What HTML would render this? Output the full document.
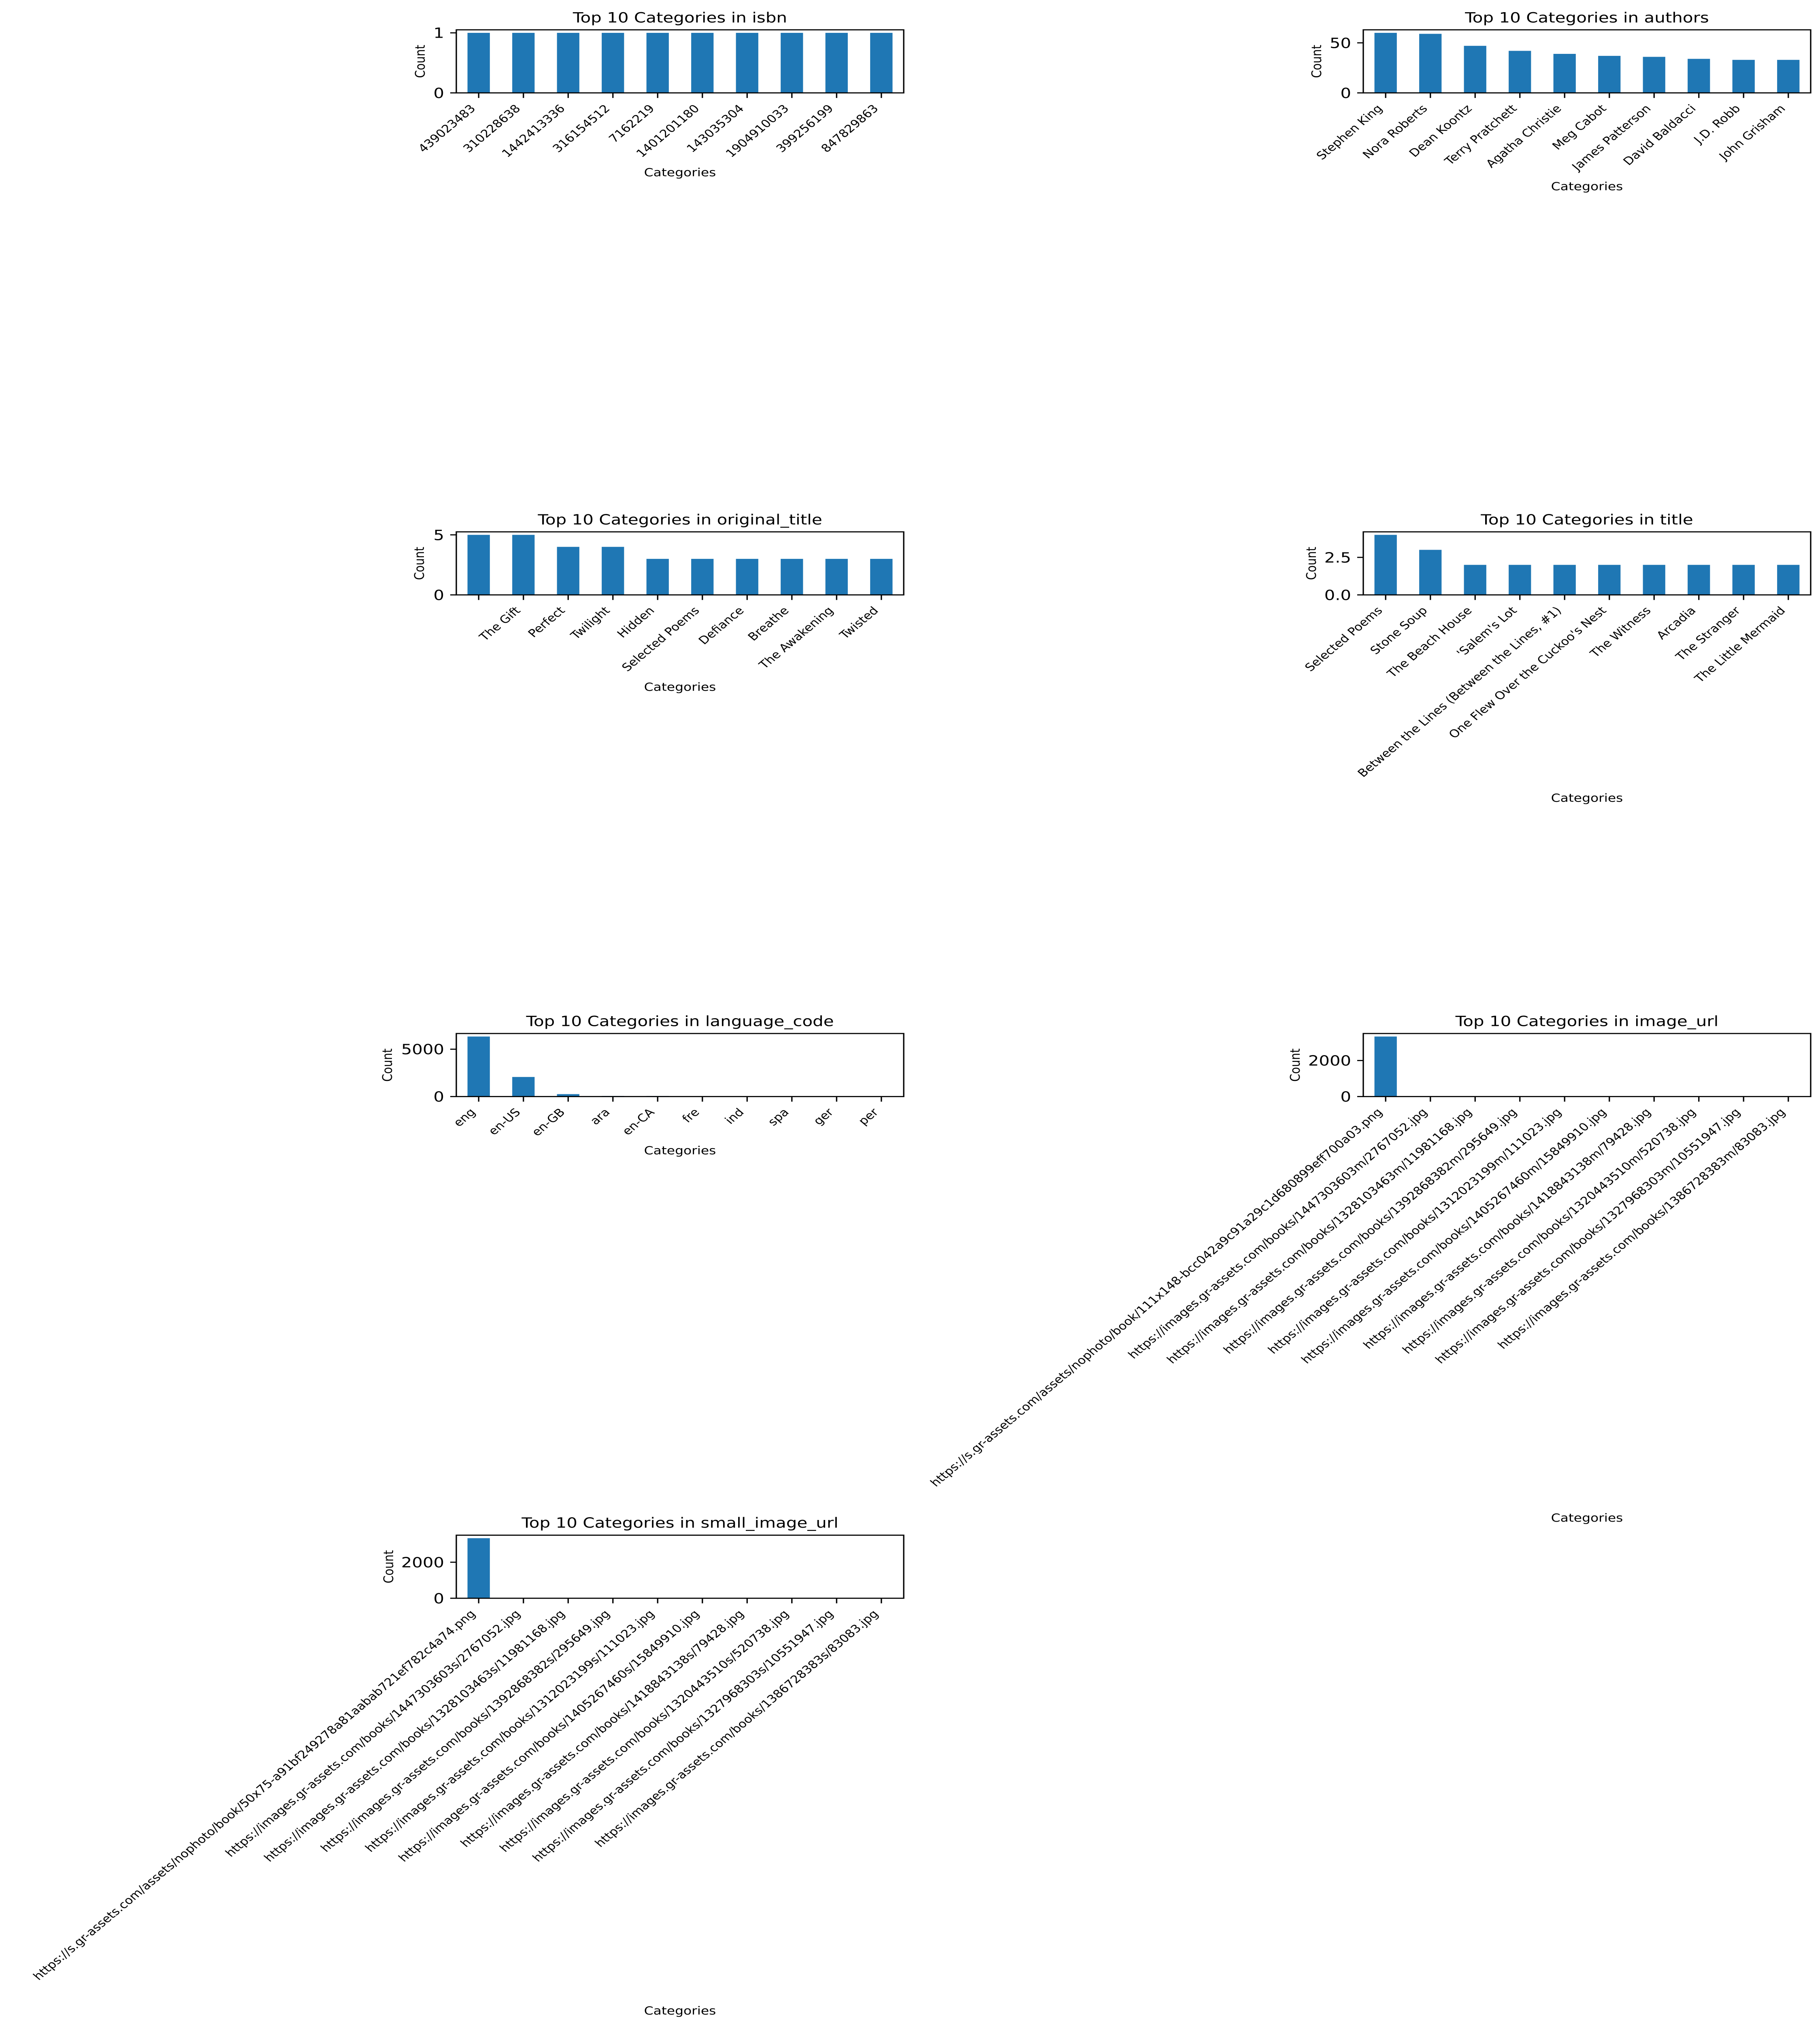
<!DOCTYPE html>
<html><head><meta charset="utf-8"><style>
html,body{margin:0;padding:0;background:#fff;width:100vw;height:100vh;overflow:hidden;}
svg{display:block;position:absolute;left:0;top:0;width:100vw;height:100vh;}
text{font-family:"DejaVu Sans","Liberation Sans",sans-serif;fill:#000;}
.t{font-size:42px;text-anchor:middle;}
.yt{font-size:41.7px;text-anchor:end;}
.al{font-size:33px;text-anchor:middle;}
.xl{font-size:32px;text-anchor:end;}
.b{fill:#1f77b4;}
.fr{fill:none;stroke:#000;stroke-width:3.3;}
.tk{stroke:#000;stroke-width:3.3;}
</style></head><body>
<svg viewBox="0 0 4495 5974" preserveAspectRatio="none" xmlns="http://www.w3.org/2000/svg">
<rect width="4495" height="5974" fill="#fff"/>
<defs>
<g id="xt">
<line class="tk" x1="55.25" y1="0" x2="55.25" y2="15"/><line class="tk" x1="165.75" y1="0" x2="165.75" y2="15"/><line class="tk" x1="276.25" y1="0" x2="276.25" y2="15"/><line class="tk" x1="386.75" y1="0" x2="386.75" y2="15"/><line class="tk" x1="497.25" y1="0" x2="497.25" y2="15"/><line class="tk" x1="607.75" y1="0" x2="607.75" y2="15"/><line class="tk" x1="718.25" y1="0" x2="718.25" y2="15"/><line class="tk" x1="828.75" y1="0" x2="828.75" y2="15"/><line class="tk" x1="939.25" y1="0" x2="939.25" y2="15"/><line class="tk" x1="1049.75" y1="0" x2="1049.75" y2="15"/>
<line class="tk" x1="-15" y1="0" x2="0" y2="0"/>
<rect class="fr" x="0" y="-186" width="1105" height="186"/>
</g>
</defs>

<!-- isbn -->
<g transform="translate(1127,274)">
<rect class="b" x="27.6" y="-177.1" width="55.25" height="177.1"/><rect class="b" x="138.1" y="-177.1" width="55.25" height="177.1"/><rect class="b" x="248.6" y="-177.1" width="55.25" height="177.1"/><rect class="b" x="359.1" y="-177.1" width="55.25" height="177.1"/><rect class="b" x="469.6" y="-177.1" width="55.25" height="177.1"/><rect class="b" x="580.1" y="-177.1" width="55.25" height="177.1"/><rect class="b" x="690.6" y="-177.1" width="55.25" height="177.1"/><rect class="b" x="801.1" y="-177.1" width="55.25" height="177.1"/><rect class="b" x="911.6" y="-177.1" width="55.25" height="177.1"/><rect class="b" x="1022.1" y="-177.1" width="55.25" height="177.1"/>
<use href="#xt"/>
<line class="tk" x1="-15" y1="-177.1" x2="0" y2="-177.1"/>
<text class="yt" x="-30" y="15">0</text><text class="yt" x="-30" y="-162">1</text>
<text class="t" x="552.5" y="-208">Top 10 Categories in isbn</text>
<text class="al" transform="translate(-78,-93) rotate(-90)">Count</text>
<text class="al" x="552.5" y="246">Categories</text>
<g transform="translate(49,48) rotate(-45)"><text class="xl">439023483</text></g>
<g transform="translate(160,48) rotate(-45)"><text class="xl">310228638</text></g>
<g transform="translate(270,48) rotate(-45)"><text class="xl">1442413336</text></g>
<g transform="translate(381,48) rotate(-45)"><text class="xl">316154512</text></g>
<g transform="translate(491,48) rotate(-45)"><text class="xl">7162219</text></g>
<g transform="translate(602,48) rotate(-45)"><text class="xl">1401201180</text></g>
<g transform="translate(712,48) rotate(-45)"><text class="xl">143035304</text></g>
<g transform="translate(823,48) rotate(-45)"><text class="xl">1904910033</text></g>
<g transform="translate(933,48) rotate(-45)"><text class="xl">399256199</text></g>
<g transform="translate(1044,48) rotate(-45)"><text class="xl">847829863</text></g>
</g>

<!-- authors -->
<g transform="translate(3367,274)">
<rect class="b" x="27.6" y="-177.1" width="55.25" height="177.1"/><rect class="b" x="138.1" y="-174.2" width="55.25" height="174.2"/><rect class="b" x="248.6" y="-138.8" width="55.25" height="138.8"/><rect class="b" x="359.1" y="-124" width="55.25" height="124"/><rect class="b" x="469.6" y="-115.1" width="55.25" height="115.1"/><rect class="b" x="580.1" y="-109.2" width="55.25" height="109.2"/><rect class="b" x="690.6" y="-106.3" width="55.25" height="106.3"/><rect class="b" x="801.1" y="-100.4" width="55.25" height="100.4"/><rect class="b" x="911.6" y="-97.4" width="55.25" height="97.4"/><rect class="b" x="1022.1" y="-97.4" width="55.25" height="97.4"/>
<use href="#xt"/>
<line class="tk" x1="-15" y1="-147.6" x2="0" y2="-147.6"/>
<text class="yt" x="-30" y="15">0</text><text class="yt" x="-30" y="-132.6">50</text>
<text class="t" x="552.5" y="-208">Top 10 Categories in authors</text>
<text class="al" transform="translate(-104,-93) rotate(-90)">Count</text>
<text class="al" x="552.5" y="287">Categories</text>
<g transform="translate(49,48) rotate(-45)"><text class="xl">Stephen King</text></g>
<g transform="translate(160,48) rotate(-45)"><text class="xl">Nora Roberts</text></g>
<g transform="translate(270,48) rotate(-45)"><text class="xl">Dean Koontz</text></g>
<g transform="translate(381,48) rotate(-45)"><text class="xl">Terry Pratchett</text></g>
<g transform="translate(491,48) rotate(-45)"><text class="xl">Agatha Christie</text></g>
<g transform="translate(602,48) rotate(-45)"><text class="xl">Meg Cabot</text></g>
<g transform="translate(712,48) rotate(-45)"><text class="xl">James Patterson</text></g>
<g transform="translate(823,48) rotate(-45)"><text class="xl">David Baldacci</text></g>
<g transform="translate(933,48) rotate(-45)"><text class="xl">J.D. Robb</text></g>
<g transform="translate(1044,48) rotate(-45)"><text class="xl">John Grisham</text></g>
</g>

<!-- original_title -->
<g transform="translate(1127,1755)">
<rect class="b" x="27.6" y="-177.1" width="55.25" height="177.1"/><rect class="b" x="138.1" y="-177.1" width="55.25" height="177.1"/><rect class="b" x="248.6" y="-141.7" width="55.25" height="141.7"/><rect class="b" x="359.1" y="-141.7" width="55.25" height="141.7"/><rect class="b" x="469.6" y="-106.3" width="55.25" height="106.3"/><rect class="b" x="580.1" y="-106.3" width="55.25" height="106.3"/><rect class="b" x="690.6" y="-106.3" width="55.25" height="106.3"/><rect class="b" x="801.1" y="-106.3" width="55.25" height="106.3"/><rect class="b" x="911.6" y="-106.3" width="55.25" height="106.3"/><rect class="b" x="1022.1" y="-106.3" width="55.25" height="106.3"/>
<use href="#xt"/>
<line class="tk" x1="-15" y1="-177.1" x2="0" y2="-177.1"/>
<text class="yt" x="-30" y="15">0</text><text class="yt" x="-30" y="-162">5</text>
<text class="t" x="552.5" y="-208">Top 10 Categories in original_title</text>
<text class="al" transform="translate(-80,-93) rotate(-90)">Count</text>
<text class="al" x="552.5" y="283">Categories</text>
<g transform="translate(160,48) rotate(-45)"><text class="xl">The Gift</text></g>
<g transform="translate(270,48) rotate(-45)"><text class="xl">Perfect</text></g>
<g transform="translate(381,48) rotate(-45)"><text class="xl">Twilight</text></g>
<g transform="translate(491,48) rotate(-45)"><text class="xl">Hidden</text></g>
<g transform="translate(602,48) rotate(-45)"><text class="xl">Selected Poems</text></g>
<g transform="translate(712,48) rotate(-45)"><text class="xl">Defiance</text></g>
<g transform="translate(823,48) rotate(-45)"><text class="xl">Breathe</text></g>
<g transform="translate(933,48) rotate(-45)"><text class="xl">The Awakening</text></g>
<g transform="translate(1044,48) rotate(-45)"><text class="xl">Twisted</text></g>
</g>

<!-- title -->
<g transform="translate(3367,1755)">
<rect class="b" x="27.6" y="-177.1" width="55.25" height="177.1"/><rect class="b" x="138.1" y="-132.9" width="55.25" height="132.9"/><rect class="b" x="248.6" y="-88.6" width="55.25" height="88.6"/><rect class="b" x="359.1" y="-88.6" width="55.25" height="88.6"/><rect class="b" x="469.6" y="-88.6" width="55.25" height="88.6"/><rect class="b" x="580.1" y="-88.6" width="55.25" height="88.6"/><rect class="b" x="690.6" y="-88.6" width="55.25" height="88.6"/><rect class="b" x="801.1" y="-88.6" width="55.25" height="88.6"/><rect class="b" x="911.6" y="-88.6" width="55.25" height="88.6"/><rect class="b" x="1022.1" y="-88.6" width="55.25" height="88.6"/>
<use href="#xt"/>
<line class="tk" x1="-15" y1="-110.7" x2="0" y2="-110.7"/>
<text class="yt" x="-30" y="15">0.0</text><text class="yt" x="-30" y="-95.7">2.5</text>
<text class="t" x="552.5" y="-208">Top 10 Categories in title</text>
<text class="al" transform="translate(-117,-93) rotate(-90)">Count</text>
<text class="al" x="552.5" y="610">Categories</text>
<g transform="translate(49,48) rotate(-45)"><text class="xl">Selected Poems</text></g>
<g transform="translate(160,48) rotate(-45)"><text class="xl">Stone Soup</text></g>
<g transform="translate(270,48) rotate(-45)"><text class="xl">The Beach House</text></g>
<g transform="translate(381,48) rotate(-45)"><text class="xl">'Salem's Lot</text></g>
<g transform="translate(491,48) rotate(-45)"><text class="xl">Between the Lines (Between the Lines, #1)</text></g>
<g transform="translate(602,48) rotate(-45)"><text class="xl">One Flew Over the Cuckoo's Nest</text></g>
<g transform="translate(712,48) rotate(-45)"><text class="xl">The Witness</text></g>
<g transform="translate(823,48) rotate(-45)"><text class="xl">Arcadia</text></g>
<g transform="translate(933,48) rotate(-45)"><text class="xl">The Stranger</text></g>
<g transform="translate(1044,48) rotate(-45)"><text class="xl">The Little Mermaid</text></g>
</g>

<!-- language_code -->
<g transform="translate(1127,3235)">
<rect class="b" x="27.6" y="-177.1" width="55.25" height="177.1"/><rect class="b" x="138.1" y="-57.8" width="55.25" height="57.8"/><rect class="b" x="248.6" y="-7.2" width="55.25" height="7.2"/><rect class="b" x="359.1" y="-1.8" width="55.25" height="1.8"/><rect class="b" x="469.6" y="-1.6" width="55.25" height="1.6"/><rect class="b" x="580.1" y="-0.7" width="55.25" height="0.7"/><rect class="b" x="690.6" y="-0.6" width="55.25" height="0.6"/><rect class="b" x="801.1" y="-0.6" width="55.25" height="0.6"/><rect class="b" x="911.6" y="-0.4" width="55.25" height="0.4"/><rect class="b" x="1022.1" y="-0.2" width="55.25" height="0.2"/>
<use href="#xt"/>
<line class="tk" x1="-15" y1="-139.7" x2="0" y2="-139.7"/>
<text class="yt" x="-30" y="15">0</text><text class="yt" x="-30" y="-124.7">5000</text>
<text class="t" x="552.5" y="-208">Top 10 Categories in language_code</text>
<text class="al" transform="translate(-159,-93) rotate(-90)">Count</text>
<text class="al" x="552.5" y="170">Categories</text>
<g transform="translate(49,48) rotate(-45)"><text class="xl">eng</text></g>
<g transform="translate(160,48) rotate(-45)"><text class="xl">en-US</text></g>
<g transform="translate(270,48) rotate(-45)"><text class="xl">en-GB</text></g>
<g transform="translate(381,48) rotate(-45)"><text class="xl">ara</text></g>
<g transform="translate(491,48) rotate(-45)"><text class="xl">en-CA</text></g>
<g transform="translate(602,48) rotate(-45)"><text class="xl">fre</text></g>
<g transform="translate(712,48) rotate(-45)"><text class="xl">ind</text></g>
<g transform="translate(823,48) rotate(-45)"><text class="xl">spa</text></g>
<g transform="translate(933,48) rotate(-45)"><text class="xl">ger</text></g>
<g transform="translate(1044,48) rotate(-45)"><text class="xl">per</text></g>
</g>

<!-- image_url -->
<g transform="translate(3367,3235)">
<rect class="b" x="27.6" y="-177.1" width="55.25" height="177.1"/>
<use href="#xt"/>
<line class="tk" x1="-15" y1="-106.3" x2="0" y2="-106.3"/>
<text class="yt" x="-30" y="15">0</text><text class="yt" x="-30" y="-91.3">2000</text>
<text class="t" x="552.5" y="-208">Top 10 Categories in image_url</text>
<text class="al" transform="translate(-157,-93) rotate(-90)">Count</text>
<text class="al" x="552.5" y="1254">Categories</text>
<g transform="translate(49,48) rotate(-45)"><text class="xl">https://s.gr-assets.com/assets/nophoto/book/111x148-bcc042a9c91a29c1d680899eff700a03.png</text></g>
<g transform="translate(160,48) rotate(-45)"><text class="xl">https://images.gr-assets.com/books/1447303603m/2767052.jpg</text></g>
<g transform="translate(270,48) rotate(-45)"><text class="xl">https://images.gr-assets.com/books/1328103463m/11981168.jpg</text></g>
<g transform="translate(381,48) rotate(-45)"><text class="xl">https://images.gr-assets.com/books/1392868382m/295649.jpg</text></g>
<g transform="translate(491,48) rotate(-45)"><text class="xl">https://images.gr-assets.com/books/1312023199m/111023.jpg</text></g>
<g transform="translate(602,48) rotate(-45)"><text class="xl">https://images.gr-assets.com/books/1405267460m/15849910.jpg</text></g>
<g transform="translate(712,48) rotate(-45)"><text class="xl">https://images.gr-assets.com/books/1418843138m/79428.jpg</text></g>
<g transform="translate(823,48) rotate(-45)"><text class="xl">https://images.gr-assets.com/books/1320443510m/520738.jpg</text></g>
<g transform="translate(933,48) rotate(-45)"><text class="xl">https://images.gr-assets.com/books/1327968303m/10551947.jpg</text></g>
<g transform="translate(1044,48) rotate(-45)"><text class="xl">https://images.gr-assets.com/books/1386728383m/83083.jpg</text></g>
</g>

<!-- small_image_url -->
<g transform="translate(1127,4715)">
<rect class="b" x="27.6" y="-177.1" width="55.25" height="177.1"/>
<use href="#xt"/>
<line class="tk" x1="-15" y1="-106.3" x2="0" y2="-106.3"/>
<text class="yt" x="-30" y="15">0</text><text class="yt" x="-30" y="-91.3">2000</text>
<text class="t" x="552.5" y="-208">Top 10 Categories in small_image_url</text>
<text class="al" transform="translate(-156,-93) rotate(-90)">Count</text>
<text class="al" x="552.5" y="1228">Categories</text>
<g transform="translate(49,48) rotate(-45)"><text class="xl">https://s.gr-assets.com/assets/nophoto/book/50x75-a91bf249278a81aabab721ef782c4a74.png</text></g>
<g transform="translate(160,48) rotate(-45)"><text class="xl">https://images.gr-assets.com/books/1447303603s/2767052.jpg</text></g>
<g transform="translate(270,48) rotate(-45)"><text class="xl">https://images.gr-assets.com/books/1328103463s/11981168.jpg</text></g>
<g transform="translate(381,48) rotate(-45)"><text class="xl">https://images.gr-assets.com/books/1392868382s/295649.jpg</text></g>
<g transform="translate(491,48) rotate(-45)"><text class="xl">https://images.gr-assets.com/books/1312023199s/111023.jpg</text></g>
<g transform="translate(602,48) rotate(-45)"><text class="xl">https://images.gr-assets.com/books/1405267460s/15849910.jpg</text></g>
<g transform="translate(712,48) rotate(-45)"><text class="xl">https://images.gr-assets.com/books/1418843138s/79428.jpg</text></g>
<g transform="translate(823,48) rotate(-45)"><text class="xl">https://images.gr-assets.com/books/1320443510s/520738.jpg</text></g>
<g transform="translate(933,48) rotate(-45)"><text class="xl">https://images.gr-assets.com/books/1327968303s/10551947.jpg</text></g>
<g transform="translate(1044,48) rotate(-45)"><text class="xl">https://images.gr-assets.com/books/1386728383s/83083.jpg</text></g>
</g>
</svg>
</body></html>
